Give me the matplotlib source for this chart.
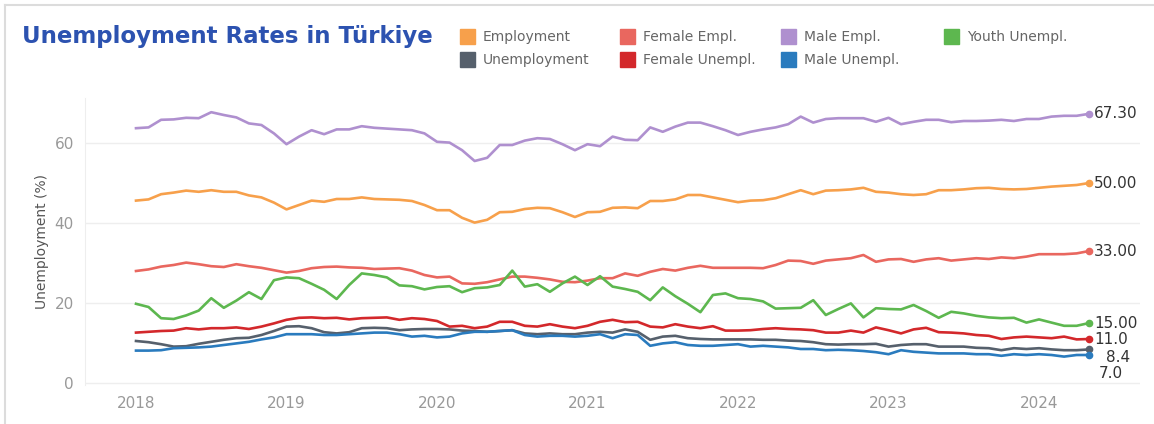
import numpy as np
import matplotlib.pyplot as plt
from matplotlib.patches import Rectangle
from matplotlib.lines import Line2D

W, H = 1154, 424

# monthly series, Jan 2018 .. May 2024
start_year = 2018
year_ticks = [2018, 2019, 2020, 2021, 2022, 2023, 2024]

employment = [45.6, 45.9, 47.2, 47.6, 48.1, 47.8, 48.2, 47.8, 47.8, 46.9, 46.4, 45.1, 43.4,
              44.5, 45.6, 45.3, 46.0, 46.0, 46.4, 46.0, 45.9, 45.8, 45.5, 44.5, 43.2, 43.2,
              41.3, 40.1, 40.8, 42.7, 42.8, 43.5, 43.8, 43.7, 42.7, 41.5, 42.7, 42.8, 43.8,
              43.9, 43.7, 45.5, 45.5, 45.9, 47.0, 47.0, 46.4, 45.8, 45.2, 45.6, 45.7,
              46.2, 47.2, 48.2, 47.2, 48.1, 48.2, 48.4, 48.8, 47.8, 47.6, 47.2, 47.0, 47.2,
              48.2, 48.2, 48.4, 48.7, 48.8, 48.5, 48.4, 48.5, 48.8, 49.1, 49.3, 49.5, 50.0]
male_empl = [63.7, 63.9, 65.8, 65.9, 66.3, 66.2, 67.7, 67.0, 66.4, 64.9, 64.5, 62.4, 59.7,
             61.6, 63.2, 62.2, 63.4, 63.4, 64.2, 63.8, 63.6, 63.4, 63.2, 62.4, 60.3, 60.1,
             58.2, 55.5, 56.3, 59.5, 59.5, 60.6, 61.2, 61.0, 59.7, 58.2, 59.7, 59.2, 61.6,
             60.8, 60.7, 63.9, 62.8, 64.1, 65.1, 65.1, 64.2, 63.2, 62.0, 62.8, 63.4,
             63.9, 64.7, 66.6, 65.1, 66.0, 66.2, 66.2, 66.2, 65.3, 66.3, 64.7, 65.3, 65.8,
             65.8, 65.2, 65.5, 65.5, 65.6, 65.8, 65.5, 66.0, 66.0, 66.6, 66.8, 66.8, 67.3]
female_empl = [28.0, 28.4, 29.1, 29.5, 30.1, 29.7, 29.2, 29.0, 29.7, 29.2, 28.8, 28.2, 27.6,
               28.0, 28.7, 29.0, 29.1, 28.9, 28.8, 28.5, 28.6, 28.7, 28.1, 27.0, 26.4, 26.6,
               24.9, 24.8, 25.2, 25.9, 26.6, 26.6, 26.3, 25.9, 25.3, 25.2, 25.6, 26.2, 26.2,
               27.4, 26.8, 27.8, 28.5, 28.1, 28.8, 29.3, 28.8, 28.8, 28.8, 28.8, 28.7,
               29.5, 30.6, 30.5, 29.8, 30.6, 30.9, 31.2, 32.0, 30.3, 30.9, 31.0, 30.3, 30.9,
               31.2, 30.6, 30.9, 31.2, 31.0, 31.4, 31.2, 31.6, 32.2, 32.2, 32.2, 32.4, 33.0]
youth_unempl = [19.8, 19.0, 16.2, 16.0, 16.9, 18.1, 21.2, 18.8, 20.6, 22.7, 21.0, 25.7, 26.4,
                26.2, 24.8, 23.3, 21.0, 24.5, 27.4, 27.0, 26.4, 24.4, 24.2, 23.4, 24.0, 24.2,
                22.7, 23.7, 23.9, 24.5, 28.1, 24.1, 24.7, 22.8, 24.9, 26.6, 24.5, 26.7, 24.1,
                23.5, 22.8, 20.7, 23.9, 21.7, 19.8, 17.7, 22.0, 22.4, 21.2, 21.0, 20.4,
                18.6, 18.7, 18.8, 20.7, 17.0, 18.5, 19.9, 16.4, 18.7, 18.5, 18.4, 19.5, 18.0,
                16.3, 17.8, 17.4, 16.8, 16.4, 16.2, 16.3, 15.1, 15.9, 15.1, 14.3, 14.3, 15.0]
female_unempl = [12.6, 12.8, 13.0, 13.1, 13.7, 13.4, 13.7, 13.7, 13.9, 13.5, 14.1, 14.9, 15.8,
                 16.3, 16.4, 16.2, 16.3, 15.9, 16.2,
                 16.3, 16.4, 15.8, 16.2, 16.0, 15.5, 14.1, 14.3, 13.7, 14.1, 15.3, 15.3, 14.3,
                 14.1, 14.7, 14.1, 13.7, 14.3, 15.3,
                 15.8, 15.2, 15.3, 14.1, 13.9, 14.7, 14.1, 13.7, 14.2, 13.1, 13.1, 13.2, 13.5,
                 13.7, 13.5, 13.4, 13.2, 12.6, 12.6,
                 13.1, 12.6, 13.9, 13.2, 12.4, 13.4, 13.8, 12.7, 12.6, 12.4, 12.0, 11.8, 11.0,
                 11.4, 11.6, 11.4, 11.2, 11.6, 10.9, 11.0]
unemployment = [10.5, 10.2, 9.7, 9.1, 9.2, 9.8, 10.3, 10.8, 11.2, 11.3, 12.0, 13.0, 14.1,
                14.2, 13.7, 12.7, 12.4, 12.7, 13.7,
                13.8, 13.7, 13.2, 13.4, 13.5, 13.5, 13.4, 13.1, 13.0, 12.8, 13.0, 13.2, 12.4,
                12.2, 12.4, 12.2, 12.2, 12.6, 12.8,
                12.6, 13.4, 12.8, 10.8, 11.6, 11.8, 11.2, 11.0, 10.9, 10.9, 10.9, 10.9, 10.8,
                10.8, 10.6, 10.5, 10.2, 9.7, 9.6,
                9.7, 9.7, 9.8, 9.1, 9.5, 9.7, 9.7, 9.1, 9.1, 9.1, 8.8, 8.7, 8.2,
                8.7, 8.5, 8.7, 8.4, 8.2, 8.2, 8.4]
male_unempl = [8.1, 8.1, 8.2, 8.7, 8.8, 8.9, 9.1, 9.5, 9.9, 10.3, 10.9, 11.4, 12.2,
               12.2, 12.2, 12.0, 12.0, 12.2, 12.4,
               12.6, 12.6, 12.2, 11.6, 11.8, 11.4, 11.6, 12.4, 12.8, 12.8, 13.0, 13.2, 12.0,
               11.6, 11.8, 11.8, 11.6, 11.8, 12.2,
               11.2, 12.2, 12.0, 9.3, 9.9, 10.2, 9.5, 9.3, 9.3, 9.5, 9.7, 9.1, 9.3,
               9.1, 8.9, 8.5, 8.5, 8.2, 8.3,
               8.2, 8.0, 7.7, 7.2, 8.2, 7.8, 7.6, 7.4, 7.4, 7.4, 7.2, 7.2, 6.8,
               7.2, 7.0, 7.2, 7.0, 6.6, 7.0, 7.0]

series_names = ['Employment', 'Unemployment', 'Female Empl.', 'Female Unempl.',
                'Male Empl.', 'Male Unempl.', 'Youth Unempl.']
series_values = [employment, unemployment, female_empl, female_unempl,
                 male_empl, male_unempl, youth_unempl]
end_labels = ['50.00', '8.4', '33.00', '11.0', '67.30', '7.0', '15.00']

colors = ['#F7A04B', '#56606C', '#E9675F', '#D3282B', '#AF90CF', '#2A7BBE', '#5DB74F']
# label offsets in pixels (dx, dy) from the last point
label_offsets = [(5, 0), (17, -8), (5, 0), (5, -1), (5, 0), (10, -18), (5, -1)]

x = start_year + np.arange(len(employment)) / 12

fig = plt.figure(figsize=(W / 100, H / 100), dpi=100)

# outer card border
fig.add_artist(Line2D([5 / W, 5 / W], [0, 1 - 5 / H], color='#dcdcdc', lw=1.5))
fig.add_artist(Line2D([5 / W, 1], [1 - 5 / H, 1 - 5 / H], color='#dcdcdc', lw=1.5))

ax = fig.add_axes([85 / W, 1 - 385 / H, (1140 - 85) / W, (385 - 98) / H])
for name, vals, col, lab, (dx, dy) in zip(series_names, series_values, colors,
                                          end_labels, label_offsets):
    ax.plot(x, vals, color=col, lw=1.9, solid_joinstyle='round')
    ax.plot(x[-1], vals[-1], 'o', color=col, ms=4.5)
    ax.annotate(lab, (x[-1], vals[-1]), xytext=(dx, dy), textcoords='offset pixels',
                ha='left', va='center', fontsize=11, color='#333333')

ax.set_xlim(start_year + (85 - 136) / 150.5, start_year + (1140 - 136) / 150.5)
ax.set_ylim(-0.5, 71.25)
ax.set_xticks(year_ticks)
ax.set_xticklabels([str(y) for y in year_ticks])
ax.set_yticks([0, 20, 40, 60])
ax.tick_params(axis='both', length=0, labelsize=11, labelcolor='#999999')
ax.tick_params(axis='x', pad=8)
ax.tick_params(axis='y', pad=8)
ax.grid(axis='y', color='#eeeeee', lw=1)
ax.set_axisbelow(True)
for s in ['top', 'right', 'bottom']:
    ax.spines[s].set_visible(False)
ax.spines['left'].set_color('#eeeeee')
ax.set_ylabel('Unemployment (%)', fontsize=10, color='#555555', labelpad=4)

fig.text(22 / W, 1 - 37 / H, 'Unemployment Rates in Türkiye', fontsize=16.5,
         fontweight='bold', color='#2C52B0', va='center', ha='left')

# legend: two rows, four columns
col_x = [460, 620, 781, 944]
row_y = [37, 60]
legend_cells = [(0, 0), (0, 1), (1, 0), (1, 1), (2, 0), (2, 1), (3, 0)]
for name, col, (c, r) in zip(series_names, colors, legend_cells):
    sx, sy = col_x[c], row_y[r]
    fig.add_artist(Rectangle((sx / W, 1 - (sy + 7) / H), 15 / W, 15 / H,
                             color=col, transform=fig.transFigure))
    fig.text((sx + 23) / W, 1 - sy / H, name, fontsize=10, color='#666666',
             va='center', ha='left')

fig.savefig('out.png', dpi=100)
